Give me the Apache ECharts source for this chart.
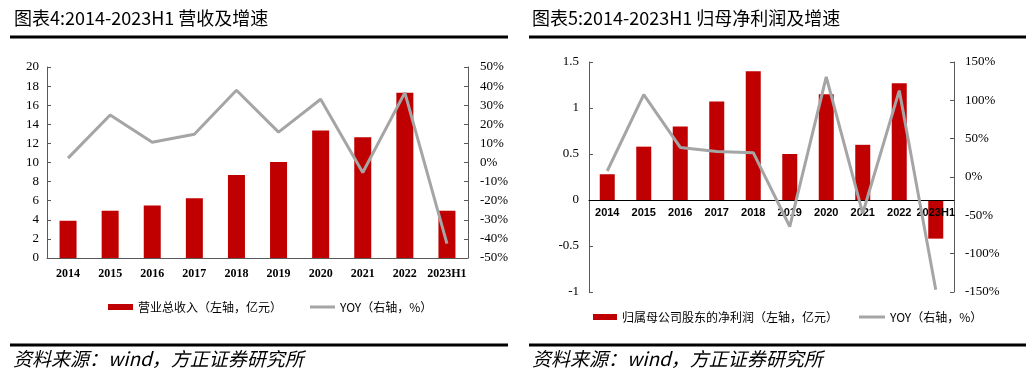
<!DOCTYPE html>
<html>
<head>
<meta charset="utf-8">
<script src="https://cdn.jsdelivr.net/npm/echarts@6/dist/echarts.min.js"></script>
<style>html,body{margin:0;padding:0;background:#fff;}#c{width:1034px;height:380px;}</style>
</head>
<body>
<div id="c"></div>
<script>
// ---- data ----
const categories = ['2014','2015','2016','2017','2018','2019','2020','2021','2022','2023H1'];
const revenue = [3.9, 4.95, 5.5, 6.25, 8.7, 10.05, 13.35, 12.65, 17.3, 4.95];
const revenueYoy = [2.3, 24.9, 10.6, 14.8, 37.8, 15.9, 33.1, -5.2, 36.6, -42.5];
const netProfit = [0.28, 0.58, 0.80, 1.07, 1.40, 0.50, 1.15, 0.60, 1.27, -0.42];
const netProfitYoy = [7.8, 107.5, 38.6, 33.4, 31.7, -64.6, 130.5, -47.3, 112.7, -147];
const title1 = '图表4:2014-2023H1 营收及增速';
const title2 = '图表5:2014-2023H1 归母净利润及增速';
const source = '资料来源：wind，方正证券研究所';
const name1 = '营业总收入（左轴，亿元）';
const name2 = '归属母公司股东的净利润（左轴，亿元）';
const nameYoy = 'YOY（右轴，%）';

const RED = '#C00000', GREY = '#A5A5A5', AX = '#595959';
const serif = 'Liberation Serif', cjk = 'Noto Sans CJK SC';

function yAx(gridIndex, min, max, interval, fmt, margin) {
  return {
    type: 'value', gridIndex, min, max, interval,
    axisLine: {show: true, onZero: false, lineStyle: {color: AX, width: 1}},
    axisTick: {show: true, inside: true, length: 4, lineStyle: {color: AX}},
    splitLine: {show: false},
    axisLabel: {fontFamily: serif, fontSize: 13, color: '#000', margin, formatter: fmt}
  };
}
const legendText = {fontFamily: cjk, fontSize: 12, color: '#000'};

const chart = echarts.init(document.getElementById('c'));
chart.setOption({
  animation: false,
  grid: [
    {left: 47, right: 566, top: 67, bottom: 122},
    {left: 589, right: 80, top: 62, bottom: 88}
  ],
  xAxis: [
    {type: 'category', gridIndex: 0, data: categories,
     axisLine: {lineStyle: {color: AX}}, axisTick: {show: false},
     axisLabel: {fontFamily: serif, fontWeight: 'bold', fontSize: 12, color: '#000', margin: 10, interval: 0}},
    {type: 'category', gridIndex: 1, data: categories, position: 'bottom', offset: 0, z: 3,
     axisLine: {onZero: false, lineStyle: {color: '#000'}}, axisTick: {show: false},
     axisLabel: {fontFamily: 'Liberation Sans', fontWeight: 'bold', fontSize: 11, color: '#000', margin: 7, interval: 0}}
  ],
  yAxis: [
    yAx(0, 0, 20, 2, '{value}', 8),
    Object.assign(yAx(0, -50, 50, 10, '{value}%', 12), {position: 'right'}),
    yAx(1, -1, 1.5, 0.5, '{value}', 10),
    Object.assign(yAx(1, -150, 150, 50, '{value}%', 11), {position: 'right'})
  ],
  legend: [
    {data: [{name: name1, icon: 'rect'}], left: 103, top: 296, itemWidth: 25, itemHeight: 6, textStyle: legendText},
    {data: [{name: nameYoy, icon: 'rect'}], left: 305, top: 296, itemWidth: 25, itemHeight: 3, textStyle: legendText},
    {data: [{name: name2, icon: 'rect'}], left: 588, top: 306, itemWidth: 24, itemHeight: 6, textStyle: legendText},
    {data: [{name: nameYoy, icon: 'rect'}], left: 854, top: 306, itemWidth: 26, itemHeight: 3, textStyle: legendText}
  ],
  series: [
    {name: name1, type: 'bar', xAxisIndex: 0, yAxisIndex: 0, data: revenue, barWidth: 17,
     itemStyle: {color: RED}},
    {name: nameYoy, type: 'line', xAxisIndex: 0, yAxisIndex: 1, data: revenueYoy, symbol: 'none',
     lineStyle: {color: GREY, width: 3}, itemStyle: {color: GREY}, z: 5},
    {name: name2, type: 'bar', xAxisIndex: 1, yAxisIndex: 2, data: netProfit, barWidth: 15,
     itemStyle: {color: RED}},
    {name: nameYoy, type: 'line', xAxisIndex: 1, yAxisIndex: 3, data: netProfitYoy, symbol: 'none',
     lineStyle: {color: GREY, width: 3}, itemStyle: {color: GREY}, z: 5}
  ],
  graphic: [
    {type: 'text', left: 14, top: 9, style: {text: title1, fontFamily: cjk, fontSize: 18, fill: '#000'}},
    {type: 'text', left: 532, top: 9, style: {text: title2, fontFamily: cjk, fontSize: 18, fill: '#000'}},
    {type: 'rect', shape: {x: 10, y: 35.5, width: 498, height: 3}, style: {fill: '#000'}},
    {type: 'rect', shape: {x: 529, y: 35.5, width: 497, height: 3}, style: {fill: '#000'}},
    {type: 'rect', shape: {x: 10, y: 343.5, width: 498, height: 3}, style: {fill: '#000'}},
    {type: 'rect', shape: {x: 529, y: 343.5, width: 497, height: 3}, style: {fill: '#000'}},
    {type: 'text', left: 13, top: 349, style: {text: source, fontFamily: cjk, fontStyle: 'italic', fontSize: 19, fill: '#000'}},
    {type: 'text', left: 532, top: 349, style: {text: source, fontFamily: cjk, fontStyle: 'italic', fontSize: 19, fill: '#000'}}
  ]
});

// Move the second chart's category axis onto the zero line of its left value axis,
// using the library's own scale to find where zero sits.
const zeroY = chart.convertToPixel({yAxisIndex: 2}, 0);
const bottomY = chart.convertToPixel({yAxisIndex: 2}, -1);
chart.setOption({xAxis: [{}, {offset: zeroY - bottomY}]});
</script>
</body>
</html>
